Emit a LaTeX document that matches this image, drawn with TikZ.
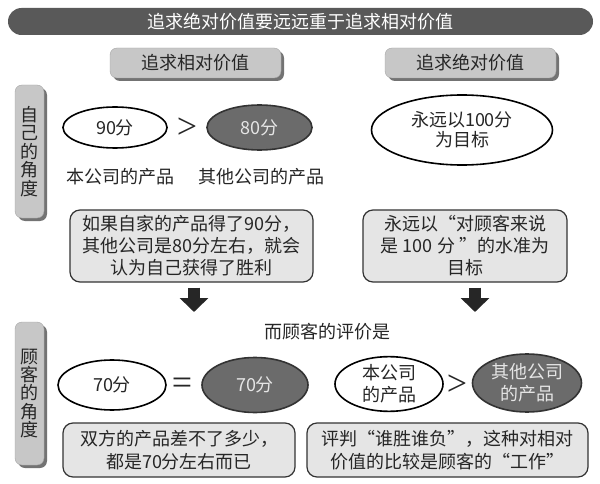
\documentclass[tikz,border=0pt]{standalone}
\usepackage{fontspec}
\setmainfont{Noto Sans CJK SC}
\newfontfamily\signfont{Liberation Serif}
\usepackage{tikz}
\usetikzlibrary{shapes.geometric,shadows,arrows.meta}

\tikzset{
 topbar/.style={fill=black!65, rounded corners=13.5pt, minimum width=585pt, minimum height=27pt, inner sep=0pt, text=white},
 headbox/.style={fill=black!22, draw=black!35, rounded corners=7pt, minimum width=171pt, minimum height=30pt, inner sep=0pt,
   general shadow={fill=black!55, shadow xshift=3pt, shadow yshift=-3pt}},
 sidetab/.style={fill=black!22, draw=black!35, rounded corners=7pt, minimum width=29pt, inner sep=0pt,
   general shadow={fill=black!55, shadow xshift=3pt, shadow yshift=-3pt}, font=\fontsize{18}{18.4}\selectfont},
 ownoval/.style={ellipse, draw=black, line width=1.6pt, fill=white, inner sep=0pt},
 otheroval/.style={ellipse, draw=black!80, line width=1.6pt, fill=black!58, text=black!10, inner sep=0pt},
 notebox/.style={draw=black!80, line width=1.2pt, fill=black!10, rounded corners=10pt, inner sep=0pt},
 sign/.style={font=\signfont\fontsize{36}{36}\selectfont, inner sep=0pt},
 bigarrow/.style={line width=12pt, draw=black!85, -{Triangle[width=28pt,length=14pt]}}
}

\begin{document}
\begin{tikzpicture}[x=1pt,y=-1pt,
  every node/.style={font=\fontsize{18}{22}\selectfont, text=black!85, align=center}]
\useasboundingbox (0,0) rectangle (600,484);

\node[topbar] (title) at (300.5,21.5) {追求绝对价值要远远重于追求相对价值};
\node[headbox] (relhead) at (195.5,63) {追求相对价值};
\node[headbox] (abshead) at (470.5,63) {追求绝对价值};

\node[sidetab, minimum height=133pt] (selftab) at (29.5,151.5) {自\\己\\的\\角\\度};
\node[sidetab, minimum height=143pt] (custtab) at (29.5,393.5) {顾\\客\\的\\角\\度};

\node[ownoval, minimum width=104pt, minimum height=41pt] (own90) at (115,127.5) {90分};
\node[sign] (gt1) at (187,128) {>};
\node[otheroval, minimum width=105pt, minimum height=45pt] (other80) at (259.5,127.5) {80分};
\node (ownlbl) at (120,177) {本公司的产品};
\node (otherlbl) at (261,177) {其他公司的产品};
\node[ownoval, minimum width=181pt, minimum height=70pt, font=\fontsize{18}{20}\selectfont] (goal) at (462,130) {永远以100分\\为目标};

\node[notebox, minimum width=243pt, minimum height=72pt] (relnote) at (191.5,246) {如果自家的产品得了90分，\\其他公司是80分左右，就会\\认为自己获得了胜利};
\node[notebox, minimum width=204pt, minimum height=72pt] (absnote) at (465,246) {永远以“对顾客来说\\是 100 分 ”的水准为\\目标};

\coordinate (reltip) at (194,312);
\coordinate (abstip) at (475,312);
\draw[bigarrow, shorten <=5pt] (reltip |- relnote.south) -- (reltip);
\draw[bigarrow, shorten <=5pt] (abstip |- absnote.south) -- (abstip);

\node (verdict) at (327,332) {而顾客的评价是};

\node[ownoval, minimum width=108pt, minimum height=50pt] (own70) at (112,385) {70分};
\node[sign] (eq) at (182,386) {=};
\node[otheroval, minimum width=106pt, minimum height=55pt] (other70) at (255,385) {70分};
\node[ownoval, minimum width=108pt, minimum height=52pt] (ownprod) at (389,384) {本公司\\的产品};
\node[sign] (gt2) at (457,385) {>};
\node[otheroval, minimum width=109pt, minimum height=58pt] (otherprod) at (527,383) {其他公司\\的产品};

\node[notebox, minimum width=232pt, minimum height=54pt, font=\fontsize{18}{23}\selectfont] (samenote) at (179,450) {双方的产品差不了多少，\\都是70分左右而已};
\node[notebox, minimum width=281pt, minimum height=54pt, font=\fontsize{18}{23}\selectfont] (worknote) at (447.5,450) {评判“谁胜谁负”，这种对相对\\价值的比较是顾客的“工作”};

\end{tikzpicture}
\end{document}
